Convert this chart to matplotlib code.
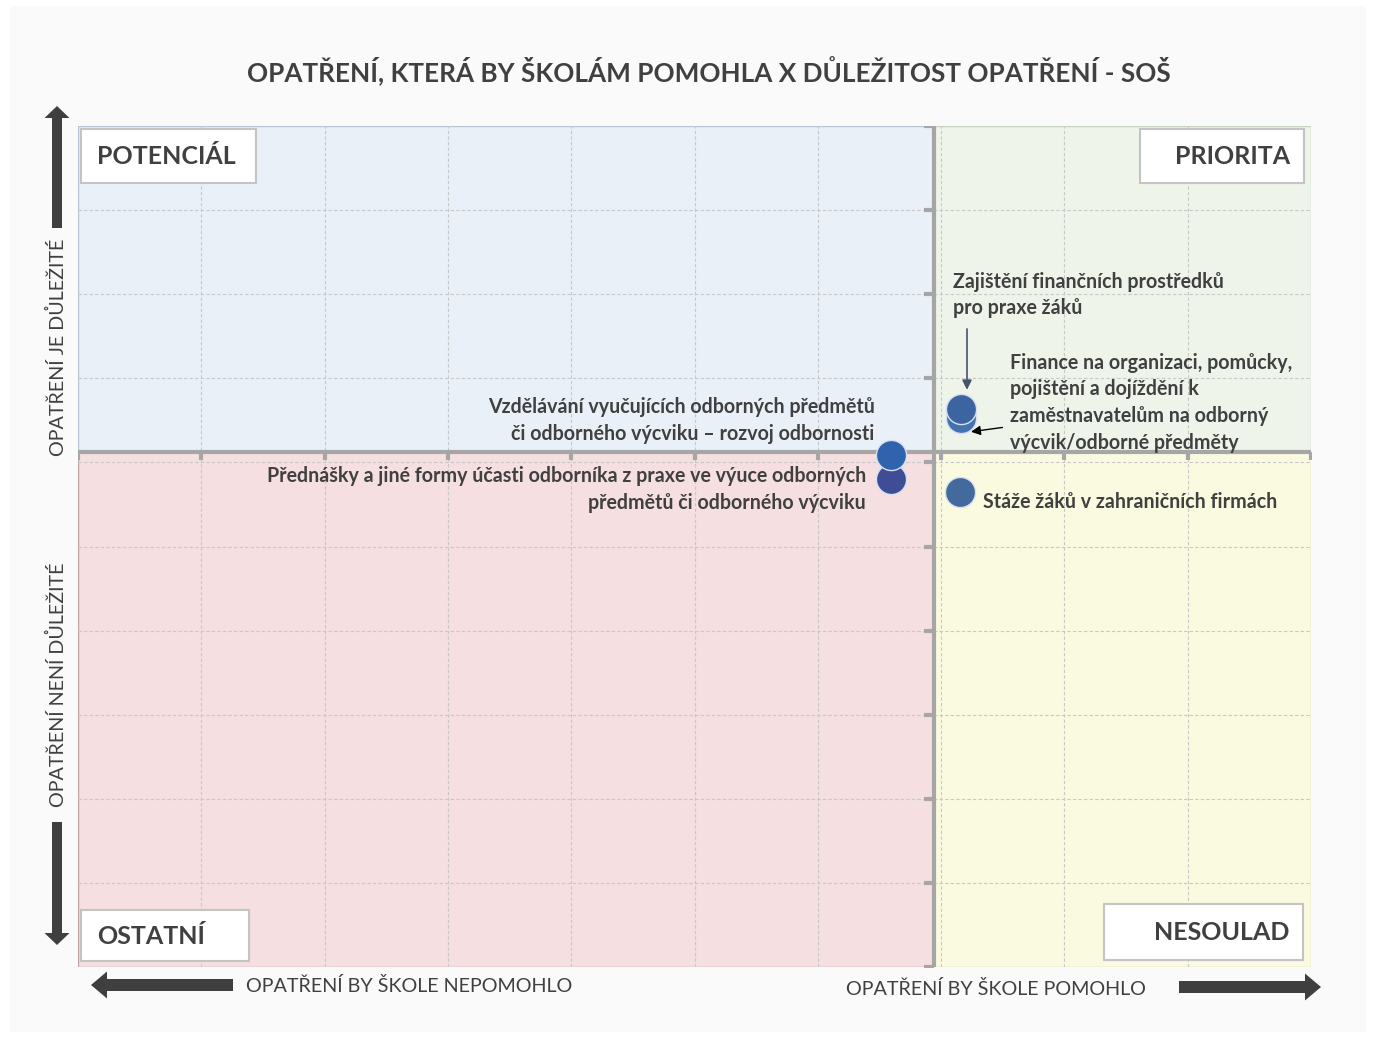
import matplotlib.pyplot as plt
from matplotlib.patches import Rectangle, FancyArrow

plt.rcParams['font.family'] = ['Lato', 'DejaVu Sans']

# data (osa X: pomohlo, osa Y: důležitost), škála 0-100
opatreni = ['Zajištění finančních prostředků\npro praxe žáků',
            'Finance na organizaci, pomůcky,\npojištění a dojíždění k\nzaměstnavatelům na odborný\nvýcvik/odborné předměty',
            'Vzdělávání vyučujících odborných předmětů\nči odborného výcviku – rozvoj odbornosti',
            'Přednášky a jiné formy účasti odborníka z praxe ve výuce odborných\npředmětů či odborného výcviku',
            'Stáže žáků v zahraničních firmách']
pomohlo = [71.6, 71.6, 65.9, 65.9, 71.5]
dulezitost = [66.3, 65.3, 60.9, 58.0, 56.5]
prumer_x = 69.4
prumer_y = 61.2

kvadranty = ['POTENCIÁL', 'PRIORITA', 'OSTATNÍ', 'NESOULAD']

dark = '#404040'

fig = plt.figure(figsize=(13.76, 10.38), dpi=100)
fig.patch.set_facecolor('white')
fig.patches.append(Rectangle((10/1376, 6/1038), 1356/1376, 1026/1038, transform=fig.transFigure,
                             facecolor='#fafafa', edgecolor='none', zorder=-5))

ax = fig.add_axes([78/1376, 1 - 967/1038, 1233/1376, 841/1038], zorder=2)
ax.set_xlim(0, 100)
ax.set_ylim(0, 100)
ax.axis('off')

# kvadranty
ax.add_patch(Rectangle((0, prumer_y), prumer_x, 100 - prumer_y, fc='#e9f0f8', ec='#b8c4d4', lw=1, zorder=0))
ax.add_patch(Rectangle((prumer_x, prumer_y), 100 - prumer_x, 100 - prumer_y, fc='#eef4ea', ec='#c6d2be', lw=1, zorder=0))
ax.add_patch(Rectangle((0, 0), prumer_x, prumer_y, fc='#f5dfe0', ec='#c0a4a4', lw=1, zorder=0))
ax.add_patch(Rectangle((prumer_x, 0), 100 - prumer_x, prumer_y, fc='#fafae0', ec='#d6d6b4', lw=1, zorder=0))

for g in range(10, 100, 10):
    ax.axvline(g, color='#c8c8c8', lw=0.8, ls=(0, (3, 2)), zorder=1)
    ax.axhline(g, color='#c8c8c8', lw=0.8, ls=(0, (3, 2)), zorder=1)

# osy v prumeru
ax.axvline(prumer_x, color='#a6a6a6', lw=3, zorder=2)
ax.axhline(prumer_y, color='#a6a6a6', lw=3, zorder=2)
ax.plot([prumer_x] * 11, list(range(0, 101, 10)), ls='none', marker=0, ms=7, mew=3, color='#a6a6a6', zorder=2)
ax.plot(list(range(0, 101, 10)), [prumer_y] * 11, ls='none', marker=3, ms=6, mew=3, color='#a6a6a6', zorder=2)

# body
barvy = ['#3b64a0', '#4472b0', '#2f63ad', '#3f4c96', '#44699c']
poradi = [1, 0, 3, 2, 4]
for i in poradi:
    ax.scatter(pomohlo[i], dulezitost[i], s=470, color=barvy[i], edgecolor='#d8e0ee', lw=1, zorder=5)

tkw = dict(fontsize=14.1, fontweight='bold', color=dark, linespacing=1.42, zorder=6)
ax.text(71.0, 79.9, opatreni[0], ha='left', va='center', **tkw)
ax.text(75.6, 67.1, opatreni[1], ha='left', va='center', **tkw)
ax.text(64.6, 65.0, opatreni[2], ha='right', va='center', **tkw)
ax.text(63.9, 56.8, opatreni[3], ha='right', va='center', **tkw)
ax.text(73.4, 55.3, opatreni[4], ha='left', va='center', **tkw)

ax.annotate('', xy=(72.1, 68.3), xytext=(72.1, 76.2),
            arrowprops=dict(arrowstyle='-|>', color='#44546a', lw=1.2, mutation_scale=14), zorder=6)
ax.annotate('', xy=(72.2, 63.6), xytext=(75.2, 64.2),
            arrowprops=dict(arrowstyle='-|>', color='black', lw=1.0, mutation_scale=14), zorder=6)

# popisky a sipky kolem grafu (pixely)
ov = fig.add_axes([0, 0, 1, 1], zorder=3)
ov.set_xlim(0, 1376)
ov.set_ylim(1038, 0)
ov.axis('off')
ov.patch.set_alpha(0)

boxy = [(81, 129, 175, 54, 'left'), (1140, 129, 164, 54, 'right'),
        (81, 910, 168, 51, 'left'), (1104, 904, 199, 56, 'right')]
for (bx, by, bw, bh, al), nazev in zip(boxy, kvadranty):
    ov.add_patch(Rectangle((bx, by), bw, bh, fc='white', ec='#c4c4c4', lw=1.5))
    tx = bx + 16 if al == 'left' else bx + bw - 14
    ov.text(tx, by + bh / 2 + 1, nazev, ha=al, va='center', fontsize=18, fontweight='bold', color=dark)

ov.text(709, 71, 'OPATŘENÍ, KTERÁ BY ŠKOLÁM POMOHLA X DŮLEŽITOST OPATŘENÍ - SOŠ',
        ha='center', va='center', fontsize=18.8, fontweight='bold', color=dark)

ov.text(57, 347, 'OPATŘENÍ JE DŮLEŽITÉ', rotation=90, ha='center', va='center', fontsize=14.2, color=dark)
ov.text(57, 685, 'OPATŘENÍ NENÍ DŮLEŽITÉ', rotation=90, ha='center', va='center', fontsize=14.2, color=dark)
ov.text(246, 986, 'OPATŘENÍ BY ŠKOLE NEPOMOHLO', ha='left', va='center', fontsize=14.2, color=dark)
ov.text(846, 989, 'OPATŘENÍ BY ŠKOLE POMOHLO', ha='left', va='center', fontsize=14.2, color=dark)

akw = dict(width=10, head_width=25, head_length=12, length_includes_head=True, fc='#3f3f3f', ec='none')
ov.add_patch(FancyArrow(57, 228, 0, -122, **akw))
ov.add_patch(FancyArrow(57, 822, 0, 123, **akw))
akw2 = dict(width=12, head_width=27, head_length=16, length_includes_head=True, fc='#3f3f3f', ec='none')
ov.add_patch(FancyArrow(233, 985, -142, 0, **akw2))
ov.add_patch(FancyArrow(1179, 987, 142, 0, **akw2))

fig.savefig('out.png', dpi=100)
